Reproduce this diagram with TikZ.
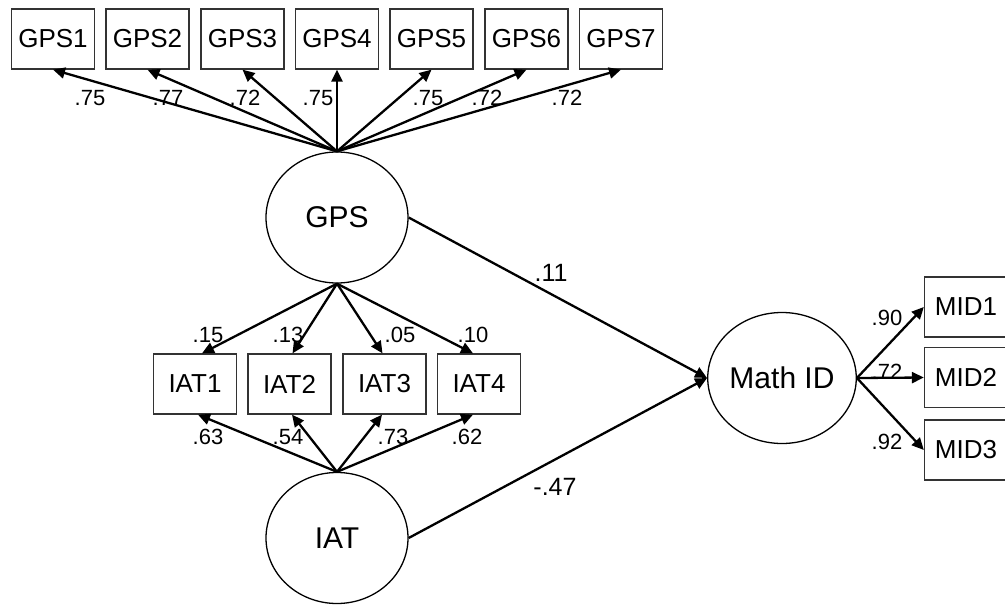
\documentclass[tikz,border=0pt]{standalone}
\usepackage{fontspec}
\setmainfont{Liberation Sans}
\usetikzlibrary{shapes.geometric,arrows.meta,calc}
\tikzset{
  obs/.style={draw=black!80,line width=1.3pt,rectangle,minimum width=83pt,minimum height=60pt,inner sep=0pt,font=\fontsize{26}{26}\selectfont},
  lat/.style={draw=black,line width=1.3pt,ellipse,minimum width=142pt,minimum height=131pt,inner sep=0pt,font=\fontsize{30}{30}\selectfont},
  path/.style={line width=2.3pt,-{Triangle[length=12pt,width=11pt]}},
  lbl/.style={inner sep=0pt,font=\fontsize{22}{22}\selectfont},
  biglbl/.style={inner sep=0pt,font=\fontsize{25}{25}\selectfont}
}
\begin{document}
\begin{tikzpicture}[x=1pt,y=-1pt]
\useasboundingbox (0,0) rectangle (1005,606);
% observed GPS items
\node[obs] (g1) at (53,39) {GPS1};
\node[obs] (g2) at (147.5,39) {GPS2};
\node[obs] (g3) at (242.5,39) {GPS3};
\node[obs] (g4) at (337,39) {GPS4};
\node[obs] (g5) at (431.5,39) {GPS5};
\node[obs] (g6) at (526.5,39) {GPS6};
\node[obs] (g7) at (621,39) {GPS7};
% latent
\node[lat] (gps) at (337,217.5) {GPS};
\node[lat] (iat) at (337,538) {IAT};
\node[lat] (mid) at (782,378) {Math ID};
% IAT items
\node[obs] (i1) at (195,384) {IAT1};
\node[obs] (i2) at (289.5,384) {IAT2};
\node[obs] (i3) at (384.5,384) {IAT3};
\node[obs] (i4) at (479,384) {IAT4};
% MID items
\node[obs] (m1) at (966,307) {MID1};
\node[obs] (m2) at (966,377.5) {MID2};
\node[obs] (m3) at (966,450) {MID3};
% connectors
\foreach \g in {g1,g2,g3,g4,g5,g6,g7}
  \draw[path] (gps.north) -- (\g.south);
\foreach \i/\da/\db in {i1/7/3,i2/3/2.5,i3/-2/-2.5,i4/-6/-6}{
  \draw[path] (gps.south) -- ($(\i.north)+(\da,0)$);
  \draw[path] (iat.north) -- ($(\i.south)+(\db,0)$);
}
\foreach \m in {m1,m2,m3}
  \draw[path] (mid.east) -- (\m.west);
\draw[path] (gps.east) -- (mid.west);
\draw[path] (iat.east) -- (mid.west);
% labels
\node[lbl] (l1) at (90,98) {.75};
\node[lbl] (l2) at (168,98) {.77};
\node[lbl] (l3) at (245,98) {.72};
\node[lbl] (l4) at (318,98) {.75};
\node[lbl] (l5) at (428,98) {.75};
\node[lbl] (l6) at (487,98) {.72};
\node[lbl] (l7) at (567,98) {.72};
\node[lbl] (a1) at (208,335) {.15};
\node[lbl] (a2) at (288,335) {.13};
\node[lbl] (a3) at (400,335) {.05};
\node[lbl] (a4) at (473,335) {.10};
\node[lbl] (b1) at (208,437) {.63};
\node[lbl] (b2) at (288,437) {.54};
\node[lbl] (b3) at (393,437) {.73};
\node[lbl] (b4) at (467,437) {.62};
\node[lbl] (c1) at (887,318) {.90};
\node[lbl] (c2) at (887,372) {.72};
\node[lbl] (c3) at (887,442) {.92};
\node[biglbl] (p1) at (551,273) {.11};
\node[biglbl] (p2) at (555,487) {-.47};
\end{tikzpicture}
\end{document}
